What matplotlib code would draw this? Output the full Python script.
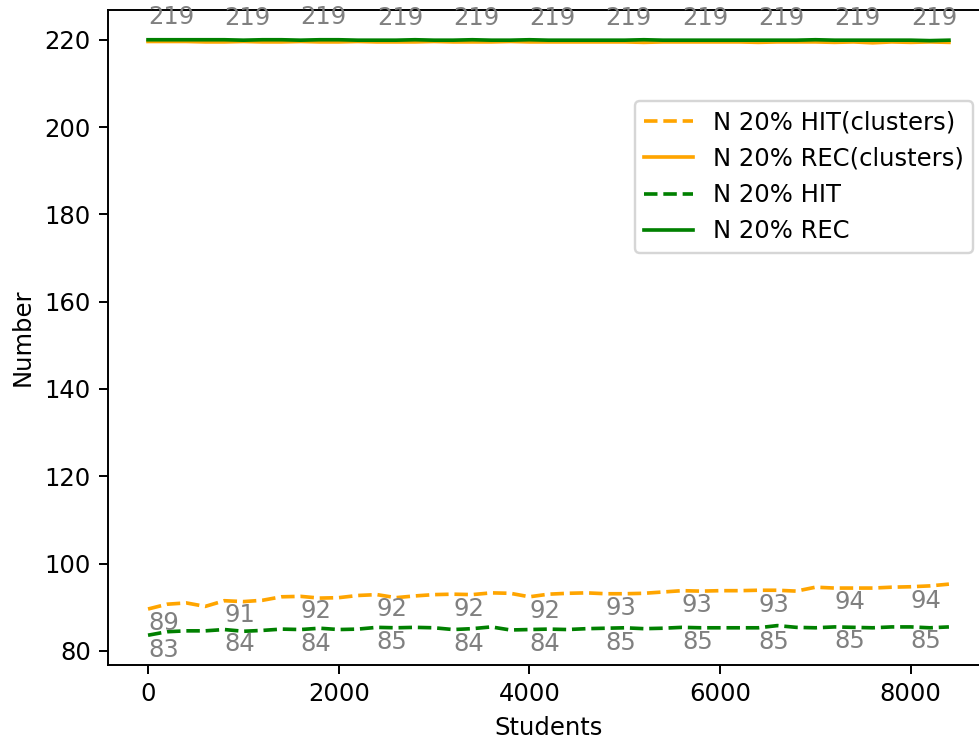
import matplotlib
matplotlib.use('Agg')
import matplotlib.pyplot as plt

# students processed (x axis), one sample every 200
students = list(range(0, 8401, 200))

hit_clusters = [89.6, 90.7, 91.0, 90.2, 91.5, 91.3, 91.6, 92.4, 92.5, 92.1,
                92.2, 92.7, 92.9, 92.2, 92.6, 92.9, 93.0, 92.9, 93.3, 93.2,
                92.4, 93.0, 93.2, 93.3, 93.1, 93.1, 93.2, 93.5, 93.8, 93.7,
                93.8, 93.8, 93.9, 93.9, 93.7, 94.6, 94.4, 94.4, 94.4, 94.6,
                94.7, 94.9, 95.3]
rec_clusters = [219.6, 219.6, 219.6, 219.5, 219.5, 219.6, 219.5, 219.5, 219.6, 219.5,
                219.5, 219.6, 219.5, 219.5, 219.5, 219.6, 219.5, 219.5, 219.5, 219.6,
                219.5, 219.5, 219.5, 219.5, 219.5, 219.5, 219.4, 219.5, 219.5, 219.5,
                219.5, 219.5, 219.4, 219.5, 219.5, 219.5, 219.4, 219.5, 219.3, 219.5,
                219.4, 219.5, 219.4]
hit = [83.6, 84.4, 84.6, 84.6, 84.9, 84.5, 84.7, 85.0, 84.9, 85.2,
       84.9, 85.0, 85.4, 85.3, 85.4, 85.3, 84.9, 85.1, 85.5, 84.8,
       84.9, 85.0, 84.9, 85.1, 85.2, 85.3, 85.1, 85.2, 85.4, 85.3,
       85.3, 85.3, 85.3, 85.8, 85.4, 85.3, 85.5, 85.4, 85.3, 85.5,
       85.5, 85.3, 85.5]
rec = [220.0, 220.0, 220.0, 220.0, 220.0, 219.9, 220.0, 220.0, 219.9, 220.0,
       220.0, 219.9, 219.9, 219.9, 220.0, 219.9, 219.9, 220.0, 219.9, 219.9,
       220.0, 219.9, 219.9, 219.9, 219.9, 219.9, 220.0, 219.9, 219.9, 219.9,
       219.9, 219.9, 219.9, 219.9, 219.9, 220.0, 219.9, 219.9, 219.9, 219.9,
       219.9, 219.8, 219.9]

# labels written on the chart every 800 students
label_every = 4
hit_clusters_labels = [89, 91, 92, 92, 92, 92, 93, 93, 93, 94, 94]
hit_labels = [83, 84, 84, 85, 84, 84, 85, 85, 85, 85, 85]
rec_clusters_labels = [219] * 11

DPI = 175
fig, ax = plt.subplots(figsize=(979 / DPI, 744 / DPI), dpi=DPI)
fig.subplots_adjust(left=0.1103, right=1.0102, top=0.9866, bottom=0.1062)

ax.plot(students, hit_clusters, '--', color='orange', label='N 20% HIT(clusters)')
ax.plot(students, rec_clusters, '-', color='orange', label='N 20% REC(clusters)')
ax.plot(students, hit, '--', color='green', label='N 20% HIT')
ax.plot(students, rec, '-', color='green', label='N 20% REC')

# annotate values below the HIT lines and above the REC(clusters) line
for i, lab in enumerate(hit_clusters_labels):
    k = i * label_every
    ax.annotate(str(lab), xy=(students[k], hit_clusters[k]), xytext=(0, -1),
                textcoords='offset points', va='top', color='gray')
for i, lab in enumerate(hit_labels):
    k = i * label_every
    ax.annotate(str(lab), xy=(students[k], hit[k]), xytext=(0, -1),
                textcoords='offset points', va='top', color='gray')
for i, lab in enumerate(rec_clusters_labels):
    k = i * label_every
    ax.annotate(str(lab), xy=(students[k], rec_clusters[k]), xytext=(0, 5),
                textcoords='offset points', va='bottom', color='gray')

ax.set_xlabel('Students')
ax.set_ylabel('Number')
ax.legend(loc='upper right', bbox_to_anchor=(0.982, 0.861), borderaxespad=0)

fig.savefig('out.png', dpi=DPI)
